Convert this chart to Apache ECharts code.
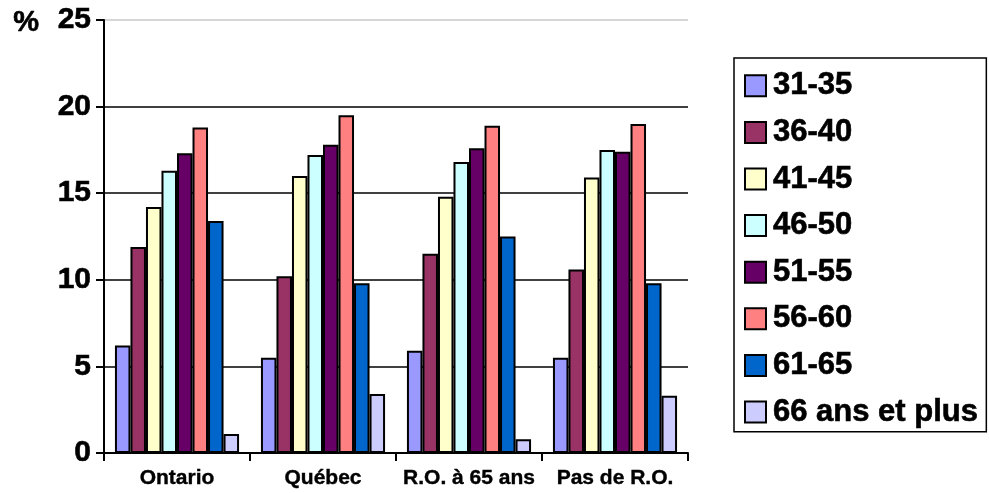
<!DOCTYPE html>
<html>
<head>
<meta charset="utf-8">
<script src="https://cdn.jsdelivr.net/npm/echarts@6/dist/echarts.min.js"></script>
<style>
html,body{margin:0;padding:0;background:#fff;}
#main{width:989px;height:493px;}
</style>
</head>
<body>
<div id="main"></div>
<script>
const categories = ['Ontario', 'Québec', 'R.O. à 65 ans', 'Pas de R.O.'];
const seriesNames = ['31-35', '36-40', '41-45', '46-50', '51-55', '56-60', '61-65', '66 ans et plus'];
const colors = ['#9999FF', '#993366', '#FFFFCC', '#CCFFFF', '#660066', '#FF8080', '#0066CC', '#CCCCFF'];
const s31_35 = [6.2, 5.5, 5.9, 5.5];
const s36_40 = [11.9, 10.2, 11.5, 10.6];
const s41_45 = [14.2, 16.0, 14.8, 15.9];
const s46_50 = [16.3, 17.2, 16.8, 17.5];
const s51_55 = [17.3, 17.8, 17.6, 17.4];
const s56_60 = [18.8, 19.5, 18.9, 19.0];
const s61_65 = [13.4, 9.8, 12.5, 9.8];
const s66plus = [1.1, 3.4, 0.8, 3.3];
const yTicks = [0, 5, 10, 15, 20, 25];

const seriesData = [s31_35, s36_40, s41_45, s46_50, s51_55, s56_60, s61_65, s66plus];
const FONT = '"Liberation Sans", Arial, sans-serif';

const chart = echarts.init(document.getElementById('main'), null, {renderer: 'canvas'});
chart.setOption({
  animation: false,
  backgroundColor: '#fff',
  textStyle: {fontFamily: FONT},
  grid: {left: 104, right: 301, top: 20, bottom: 40, containLabel: false},
  graphic: [{
    type: 'text', left: 13, top: 8,
    style: {text: '%', font: 'bold 29px ' + FONT, fill: '#000', stroke: '#000', lineWidth: 0.6}
  }],
  legend: {
    orient: 'vertical',
    left: 734, top: 58,
    padding: [12, 8, 4, 10],
    itemGap: 15,
    itemWidth: 21, itemHeight: 21,
    icon: 'rect',
    backgroundColor: '#fff',
    borderColor: '#000', borderWidth: 1.5,
    textStyle: {fontSize: 31, fontWeight: 'bold', color: '#000', fontFamily: FONT, lineHeight: 30,
      padding: [0, 0, 0, 2], textBorderColor: '#000', textBorderWidth: 0.6},
    data: seriesNames
  },
  xAxis: {
    type: 'category',
    data: categories,
    axisLine: {lineStyle: {color: '#000', width: 2}},
    axisTick: {show: true, length: 8, lineStyle: {color: '#000', width: 2}, inside: false},
    axisLabel: {interval: 0, fontSize: 21, fontWeight: 'bold', color: '#000', fontFamily: FONT, margin: 15,
      textBorderColor: '#000', textBorderWidth: 0.4}
  },
  yAxis: {
    type: 'value',
    min: yTicks[0], max: yTicks[yTicks.length - 1], interval: 5,
    axisLine: {show: true, lineStyle: {color: '#000', width: 2}},
    axisTick: {show: true, length: 8, lineStyle: {color: '#000', width: 2}},
    axisLabel: {fontSize: 30, fontWeight: 'bold', color: '#000', fontFamily: FONT, margin: 13,
      textBorderColor: '#000', textBorderWidth: 0.6},
    splitLine: {show: true, lineStyle: {color: ['#000', '#000', '#000', '#000', '#000', '#c8c8c8'], width: 1.5}}
  },
  series: seriesNames.map((name, i) => ({
    name: name,
    type: 'bar',
    data: seriesData[i],
    barGap: '0%',
    barCategoryGap: '15%',
    itemStyle: {color: colors[i], borderColor: '#000', borderWidth: 2}
  }))
});
</script>
</body>
</html>
